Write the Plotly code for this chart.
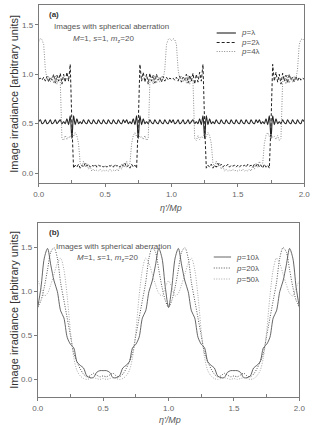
import plotly.graph_objects as go

# ---------------- data: panel (a) ----------------
xa = [round(i * 0.0125, 4) for i in range(161)]

p1 = [0.52, 0.54, 0.50, 0.51, 0.54, 0.50, 0.51, 0.54, 0.50, 0.51,
      0.54, 0.50, 0.52, 0.54, 0.50, 0.52, 0.50, 0.55, 0.49, 0.58,
      0.35, 0.58, 0.49, 0.55, 0.50, 0.52, 0.50, 0.54, 0.51, 0.50,
      0.54, 0.51, 0.50, 0.54, 0.51, 0.50, 0.54, 0.51, 0.50, 0.54,
      0.51, 0.50, 0.54, 0.51, 0.50, 0.54, 0.51, 0.50, 0.54, 0.51,
      0.50, 0.54, 0.51, 0.54, 0.50, 0.52, 0.50, 0.55, 0.49, 0.58,
      0.35, 0.58, 0.49, 0.55, 0.50, 0.52, 0.50, 0.54, 0.51, 0.50,
      0.54, 0.51, 0.50, 0.54, 0.51, 0.50, 0.54, 0.51, 0.50, 0.54,
      0.51, 0.54, 0.50, 0.51, 0.54, 0.50, 0.51, 0.54, 0.50, 0.51,
      0.54, 0.50, 0.52, 0.54, 0.50, 0.52, 0.50, 0.55, 0.49, 0.58,
      0.35, 0.58, 0.49, 0.55, 0.50, 0.52, 0.50, 0.54, 0.51, 0.50,
      0.54, 0.51, 0.50, 0.54, 0.51, 0.50, 0.54, 0.51, 0.50, 0.54,
      0.51, 0.50, 0.54, 0.51, 0.50, 0.54, 0.51, 0.50, 0.54, 0.51,
      0.50, 0.54, 0.51, 0.54, 0.50, 0.52, 0.50, 0.55, 0.49, 0.58,
      0.35, 0.58, 0.49, 0.55, 0.50, 0.52, 0.50, 0.54, 0.51, 0.50,
      0.54, 0.51, 0.50, 0.54, 0.51, 0.50, 0.54, 0.51, 0.50, 0.54,
      0.52]

p2 = [0.95, 0.96, 0.94, 0.97, 0.93, 0.98, 0.92, 0.97, 0.94, 1.00,
      0.91, 0.99, 0.93, 1.01, 0.90, 1.00, 0.92, 1.02, 0.93, 1.10,
      0.50, 0.05, 0.08, 0.06, 0.09, 0.05, 0.08, 0.06, 0.10, 0.07,
      0.09, 0.06, 0.08, 0.07, 0.09, 0.06, 0.08, 0.07, 0.08, 0.06,
      0.08, 0.06, 0.08, 0.07, 0.08, 0.06, 0.09, 0.07, 0.08, 0.06,
      0.09, 0.07, 0.10, 0.06, 0.08, 0.05, 0.09, 0.06, 0.08, 0.05,
      0.50, 1.10, 0.93, 1.02, 0.92, 1.00, 0.90, 1.01, 0.93, 0.99,
      0.91, 1.00, 0.94, 0.97, 0.92, 0.98, 0.93, 0.97, 0.94, 0.96,
      0.95, 0.96, 0.94, 0.97, 0.93, 0.98, 0.92, 0.97, 0.94, 1.00,
      0.91, 0.99, 0.93, 1.01, 0.90, 1.00, 0.92, 1.02, 0.93, 1.10,
      0.50, 0.05, 0.08, 0.06, 0.09, 0.05, 0.08, 0.06, 0.10, 0.07,
      0.09, 0.06, 0.08, 0.07, 0.09, 0.06, 0.08, 0.07, 0.08, 0.06,
      0.08, 0.06, 0.08, 0.07, 0.08, 0.06, 0.09, 0.07, 0.08, 0.06,
      0.09, 0.07, 0.10, 0.06, 0.08, 0.05, 0.09, 0.06, 0.08, 0.05,
      0.50, 1.10, 0.93, 1.02, 0.92, 1.00, 0.90, 1.01, 0.93, 0.99,
      0.91, 1.00, 0.94, 0.97, 0.92, 0.98, 0.93, 0.97, 0.94, 0.96,
      0.95]

p4 = [1.33, 1.36, 1.35, 1.30, 1.05, 0.95, 0.98, 0.92, 0.97, 0.91,
      0.99, 0.90, 0.98, 0.92, 0.35, 0.33, 0.38, 0.34, 0.37, 0.36,
      0.40, 0.37, 0.41, 0.38, 0.30, 0.10, 0.07, 0.12, 0.06, 0.10,
      0.04, 0.07, 0.02, 0.04, 0.02, 0.03, 0.02, 0.04, 0.02, 0.03,
      0.02, 0.03, 0.02, 0.04, 0.02, 0.03, 0.02, 0.04, 0.02, 0.07,
      0.04, 0.10, 0.06, 0.12, 0.07, 0.10, 0.30, 0.38, 0.41, 0.37,
      0.40, 0.36, 0.37, 0.34, 0.38, 0.33, 0.35, 0.92, 0.98, 0.90,
      0.99, 0.91, 0.97, 0.92, 0.98, 0.95, 1.05, 1.30, 1.35, 1.36,
      1.34, 1.36, 1.35, 1.30, 1.05, 0.95, 0.98, 0.92, 0.97, 0.91,
      0.99, 0.90, 0.98, 0.92, 0.35, 0.33, 0.38, 0.34, 0.37, 0.36,
      0.40, 0.37, 0.41, 0.38, 0.30, 0.10, 0.07, 0.12, 0.06, 0.10,
      0.04, 0.07, 0.02, 0.04, 0.02, 0.03, 0.02, 0.04, 0.02, 0.03,
      0.02, 0.03, 0.02, 0.04, 0.02, 0.03, 0.02, 0.04, 0.02, 0.07,
      0.04, 0.10, 0.06, 0.12, 0.07, 0.10, 0.30, 0.38, 0.41, 0.37,
      0.40, 0.36, 0.37, 0.34, 0.38, 0.33, 0.35, 0.92, 0.98, 0.90,
      0.99, 0.91, 0.97, 0.92, 0.98, 0.95, 1.05, 1.30, 1.35, 1.36,
      1.34]

# ---------------- data: panel (b) ----------------
xb = [round(i * 0.025, 4) for i in range(81)]

p10 = [0.82, 1.05, 1.38, 1.49, 1.30, 1.12, 1.00, 0.78, 0.70, 0.48,
       0.40, 0.36, 0.20, 0.16, 0.13, 0.04, 0.02, 0.02, 0.08, 0.10,
       0.10, 0.10, 0.08, 0.02, 0.02, 0.04, 0.13, 0.16, 0.20, 0.36,
       0.40, 0.48, 0.70, 0.78, 1.00, 1.12, 1.30, 1.49, 1.38, 1.05,
       0.82, 1.05, 1.38, 1.49, 1.30, 1.12, 1.00, 0.78, 0.70, 0.48,
       0.40, 0.36, 0.20, 0.16, 0.13, 0.04, 0.02, 0.02, 0.08, 0.10,
       0.10, 0.10, 0.08, 0.02, 0.02, 0.04, 0.13, 0.16, 0.20, 0.36,
       0.40, 0.48, 0.70, 0.78, 1.00, 1.12, 1.30, 1.49, 1.38, 1.05,
       0.82]

p20 = [0.82, 0.90, 1.05, 1.25, 1.45, 1.50, 1.38, 1.10, 0.90, 0.70,
       0.50, 0.30, 0.20, 0.12, 0.06, 0.03, 0.04, 0.07, 0.05, 0.03,
       0.04, 0.03, 0.05, 0.07, 0.04, 0.03, 0.06, 0.12, 0.20, 0.30,
       0.50, 0.70, 0.90, 1.10, 1.38, 1.50, 1.45, 1.25, 1.05, 0.90,
       0.82, 0.90, 1.05, 1.25, 1.45, 1.50, 1.38, 1.10, 0.90, 0.70,
       0.50, 0.30, 0.20, 0.12, 0.06, 0.03, 0.04, 0.07, 0.05, 0.03,
       0.04, 0.03, 0.05, 0.07, 0.04, 0.03, 0.06, 0.12, 0.20, 0.30,
       0.50, 0.70, 0.90, 1.10, 1.38, 1.50, 1.45, 1.25, 1.05, 0.90,
       0.82]

p50 = [1.12, 1.05, 0.95, 0.98, 1.08, 1.20, 1.32, 1.38, 1.25, 0.95,
       0.55, 0.25, 0.10, 0.04, 0.01, 0.00, 0.01, 0.02, 0.01, 0.00,
       0.01, 0.00, 0.01, 0.02, 0.01, 0.00, 0.01, 0.04, 0.10, 0.25,
       0.55, 0.95, 1.25, 1.38, 1.32, 1.20, 1.08, 0.98, 0.95, 1.05,
       1.12, 1.05, 0.95, 0.98, 1.08, 1.20, 1.32, 1.38, 1.25, 0.95,
       0.55, 0.25, 0.10, 0.04, 0.01, 0.00, 0.01, 0.02, 0.01, 0.00,
       0.01, 0.00, 0.01, 0.02, 0.01, 0.00, 0.01, 0.04, 0.10, 0.25,
       0.55, 0.95, 1.25, 1.38, 1.32, 1.20, 1.08, 0.98, 0.95, 1.05,
       1.12]

x_ticks = [0.0, 0.5, 1.0, 1.5, 2.0]
x_ticklabels = ["0.0", "0.5", "1.0", "1.5", "2.0"]
y_ticks = [0.0, 0.5, 1.0, 1.5]
y_ticklabels = ["0.0", "0.5", "1.0", "1.5"]

legend_a = ["<i>p</i>=λ", "<i>p</i>=2λ", "<i>p</i>=4λ"]
legend_b = ["<i>p</i>=10λ", "<i>p</i>=20λ", "<i>p</i>=50λ"]

# ---------------- figure ----------------
W, H = 315, 425
FONT = "Liberation Sans, Arial, sans-serif"
TXT = "#555555"
FRAME = "#7a7a7a"

fig = go.Figure()

sty_a = [dict(color="#222222", width=1.1, dash="solid"),
         dict(color="#222222", width=1.0, dash="3px,2px"),
         dict(color="#8c8c8c", width=1.0, dash="1px,1.5px")]
sty_b = [dict(color="#555555", width=0.9, dash="solid"),
         dict(color="#555555", width=1.0, dash="1px,1.5px"),
         dict(color="#a8a8a8", width=1.0, dash="1px,1.5px")]

shape_a = ["spline", "linear", "linear"]
for ys, st, sh in zip([p1, p2, p4], sty_a, shape_a):
    line = dict(st, shape=sh)
    if sh == "spline":
        line["smoothing"] = 0.9
    fig.add_trace(go.Scatter(x=xa, y=ys, mode="lines", line=line,
                             xaxis="x", yaxis="y", showlegend=False))
for ys, st in zip([p10, p20, p50], sty_b):
    fig.add_trace(go.Scatter(x=xb, y=ys, mode="lines",
                             line=dict(st, shape="spline", smoothing=0.8),
                             xaxis="x2", yaxis="y2", showlegend=False))

# panel rectangles in pixels
A = dict(l=34, r=310, t=5, b=183)
B = dict(l=33, r=305, t=223, b=397)


def px(x):
    return x / W


def py(y):
    return 1 - y / H


def axis_common():
    return dict(showgrid=False, zeroline=False, showline=True, mirror=True,
                linecolor=FRAME, linewidth=1, ticks="outside", ticklen=3,
                tickcolor=FRAME, tickfont=dict(family=FONT, size=8, color="#666666"))


xa_ax = axis_common()
xa_ax.update(domain=[px(A["l"]), px(A["r"])], range=[0, 2], tickvals=x_ticks,
             ticktext=x_ticklabels, anchor="y",
             minor=dict(tickvals=[0.25, 0.75, 1.25, 1.75], ticks="inside",
                        ticklen=3, tickcolor=FRAME))
ya_ax = axis_common()
ya_ax.update(domain=[py(A["b"]), py(A["t"])], range=[-0.1, 1.7], tickvals=y_ticks,
             ticktext=y_ticklabels, anchor="x")
xb_ax = axis_common()
xb_ax.update(domain=[px(B["l"]), px(B["r"])], range=[0, 2], tickvals=x_ticks,
             ticktext=x_ticklabels, anchor="y2",
             minor=dict(tickvals=[0.25, 0.75, 1.25, 1.75], ticks="inside",
                        ticklen=3, tickcolor=FRAME))
yb_ax = axis_common()
yb_ax.update(domain=[py(B["b"]), py(B["t"])], range=[-0.2, 1.78], tickvals=y_ticks,
             ticktext=y_ticklabels, anchor="x2")

fig.update_layout(
    width=W, height=H, margin=dict(l=0, r=0, t=0, b=0),
    paper_bgcolor="white", plot_bgcolor="white",
    xaxis=xa_ax, yaxis=ya_ax, xaxis2=xb_ax, yaxis2=yb_ax,
    font=dict(family=FONT, color=TXT),
)

ann = []


def text(x, y, s, size=8, xanchor="left", **kw):
    ann.append(dict(x=px(x), y=py(y), xref="paper", yref="paper", text=s,
                    showarrow=False, xanchor=xanchor, yanchor="middle",
                    font=dict(family=FONT, size=size, color=kw.pop("color", TXT)), **kw))


# panel (a) texts
text(43, 15, "<b>(a)</b>", size=8, color="#333333")
text(48, 27, "Images with spherical aberration", size=8)
text(68, 39, "<i>M</i>=1, <i>s</i>=1, <i>m</i><sub>z</sub>=20", size=8)
# panel (b) texts
text(43, 232, "<b>(b)</b>", size=8, color="#333333")
text(50, 246, "Images with spherical aberration", size=8)
text(72, 258, "<i>M</i>=1, <i>s</i>=1, <i>m</i><sub>z</sub>=20", size=8)

# axis titles
for yc in [(A["t"] + A["b"]) / 2, (B["t"] + B["b"]) / 2]:
    text(8, yc, "Image irradiance [arbitrary units]", size=11, xanchor="center",
         textangle=-90, color="#333333")
text(172, 208, "<i>η'/Mp</i>", size=9, xanchor="center")
text(170, 420, "<i>η'/Mp</i>", size=9, xanchor="center")

# manual legends
shapes = []
leg_a_y = [33, 42.5, 51.5]
for lab, yy, st in zip(legend_a, leg_a_y, sty_a):
    shapes.append(dict(type="line", xref="paper", yref="paper", x0=px(219), x1=px(239),
                       y0=py(yy), y1=py(yy), line=st))
    text(242, yy, lab, size=8)
leg_b_y = [257, 268, 279]
for lab, yy, st in zip(legend_b, leg_b_y, sty_b):
    shapes.append(dict(type="line", xref="paper", yref="paper", x0=px(216), x1=px(234),
                       y0=py(yy), y1=py(yy), line=st))
    text(237, yy, lab, size=8)

fig.update_layout(annotations=ann, shapes=shapes)
fig.write_html("out.html")
